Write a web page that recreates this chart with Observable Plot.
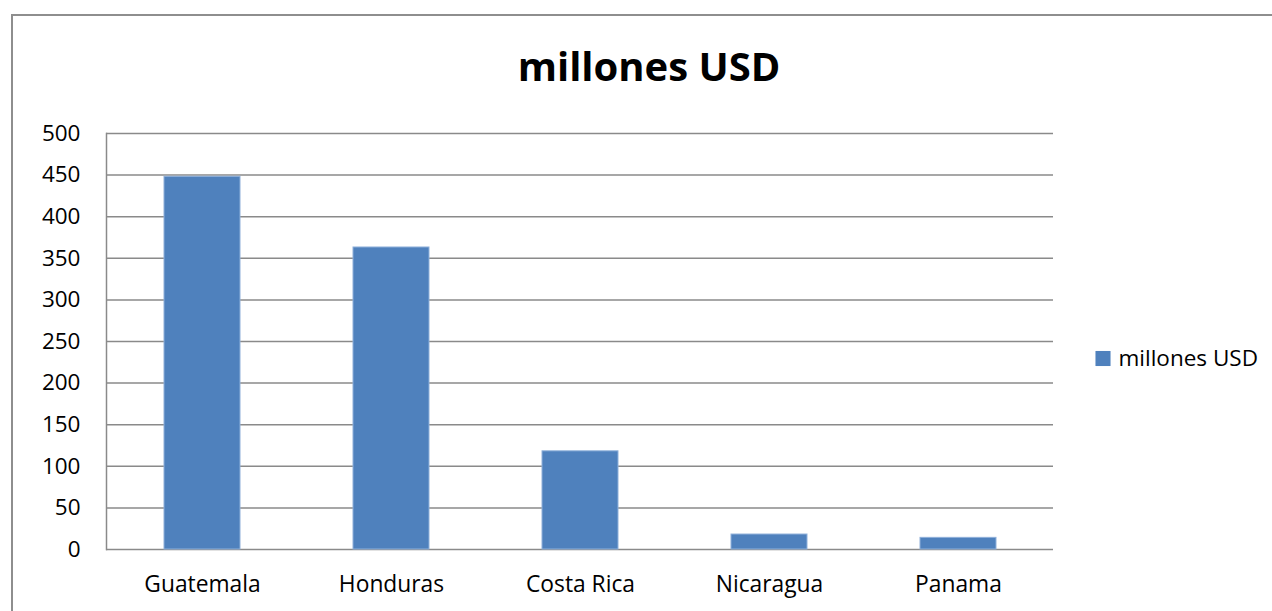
<!DOCTYPE html>
<html>
<head>
<meta charset="utf-8">
<script src="https://cdn.jsdelivr.net/npm/d3@7"></script>
<script src="https://cdn.jsdelivr.net/npm/@observablehq/plot@0.6"></script>
<style>
  html, body { margin: 0; padding: 0; background: #fff; }
  #wrap { position: relative; width: 1272px; height: 611px; overflow: hidden; }
  #border { position: absolute; left: 11px; top: 14px; width: 1300px; height: 700px;
            border-left: 2px solid #8e8e8e; border-top: 2px solid #8e8e8e; pointer-events: none; }
</style>
</head>
<body>
<div id="wrap"><div id="border"></div></div>
<script>
const categories = ["Guatemala", "Honduras", "Costa Rica", "Nicaragua", "Panama"];
const values = [448, 363, 118, 18, 14];
const yTicks = [0, 50, 100, 150, 200, 250, 300, 350, 400, 450, 500];
const seriesName = "millones USD";
const title = "millones USD";

const data = categories.map((c, i) => ({country: c, value: values[i]}));
const font = "'Open Sans', 'Noto Sans', sans-serif";

const chart = Plot.plot({
  width: 1272,
  height: 611,
  marginLeft: 106,
  marginRight: 219,
  marginTop: 133,
  marginBottom: 62,
  style: {fontFamily: font, fontSize: "22px", color: "#000", background: "transparent"},
  x: {domain: categories, paddingInner: 0.6, paddingOuter: 0.3, label: null},
  y: {domain: [0, 500], label: null},
  marks: [
    Plot.ruleY(yTicks, {stroke: "#8a8a8a", strokeWidth: 1.5}),
    Plot.frame({anchor: "left", stroke: "#8a8a8a", strokeWidth: 1.5}),
    Plot.barY(data, {x: "country", y: "value", fill: "#4F81BD", stroke: "#8fb0da", strokeWidth: 1}),
    Plot.axisY({ticks: yTicks, tickSize: 0, tickPadding: 26, fontSize: 22.5, fill: "#000"}),
    Plot.axisX({tickSize: 0, tickPadding: 26, fontSize: 22.8, fill: "#000"}),
    Plot.text([title], {frameAnchor: "top", lineAnchor: "middle", dx: 69, dy: -65, fontSize: 40, fontWeight: "bold", fill: "#000"}),
    Plot.dot([seriesName], {frameAnchor: "right", dx: 49.5, dy: 17, symbol: "square", r: 8.5, fill: "#4F81BD"}),
    Plot.text([seriesName], {frameAnchor: "right", dx: 65, dy: 17, textAnchor: "start", fontSize: 22.5, fill: "#000"})
  ]
});
document.getElementById("wrap").prepend(chart);
</script>
</body>
</html>
